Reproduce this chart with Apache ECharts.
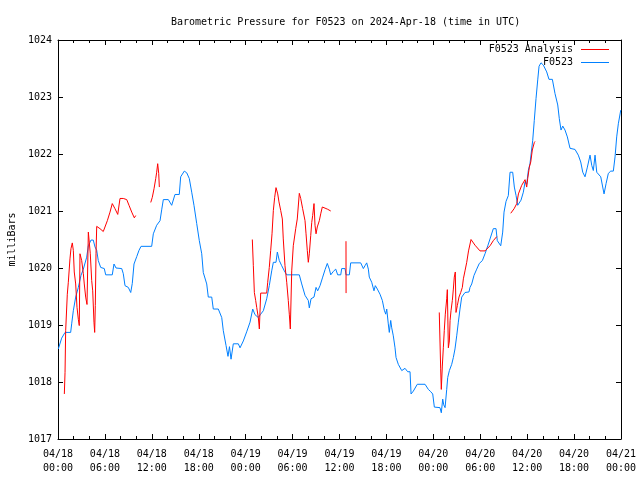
<!DOCTYPE html>
<html>
<head>
<meta charset="utf-8">
<script src="https://cdn.jsdelivr.net/npm/echarts@6/dist/echarts.min.js"></script>
<style>html,body{margin:0;padding:0;background:#fff}#c{width:640px;height:480px}</style>
</head>
<body>
<div id="c"></div>
<script>
// time in hours since 2024-04-18 00:00 UTC
const xTickLabels = ["04/18\n00:00","04/18\n06:00","04/18\n12:00","04/18\n18:00","04/19\n00:00","04/19\n06:00","04/19\n12:00","04/19\n18:00","04/20\n00:00","04/20\n06:00","04/20\n12:00","04/20\n18:00","04/21\n00:00"];
const seriesNames = ["F0523 Analysis", "F0523"];

const stationHours = [0.04,0.47,0.90,1.62,1.75,1.96,2.26,2.60,2.94,3.24,3.67,3.88,4.22,4.51,4.73,4.95,5.15,5.46,5.92,6.10,6.94,7.16,7.42,8.15,8.35,8.57,8.99,9.30,9.50,9.72,10.07,10.36,10.62,11.98,12.19,12.62,13.05,13.26,13.47,14.11,14.54,14.96,15.51,15.69,16.15,16.46,16.79,17.10,17.39,17.74,18.07,18.38,18.58,19.02,19.22,19.66,19.86,20.50,20.94,21.14,21.49,21.74,21.93,22.13,22.42,23.06,23.28,23.70,24.13,24.56,24.90,25.20,25.62,25.92,26.26,26.69,27.02,27.33,27.54,27.88,28.05,28.30,28.61,28.94,29.25,30.86,31.17,31.59,32.01,32.14,32.36,32.74,33.00,33.21,33.51,33.85,34.15,34.44,34.70,34.88,35.21,35.52,35.77,36.16,36.28,36.71,36.83,37.26,37.43,38.71,39.05,39.26,39.48,39.69,39.81,40.12,40.41,40.58,40.84,41.18,41.48,41.73,41.91,42.04,42.24,42.37,42.55,42.68,42.88,43.10,43.23,43.52,43.96,44.38,44.60,44.72,45.02,45.15,45.44,45.95,46.94,47.36,47.67,47.92,48.13,48.85,49.02,49.20,49.33,49.50,49.71,49.84,50.05,50.35,50.56,50.77,50.99,51.20,51.41,51.63,52.05,52.56,52.69,52.91,53.20,53.55,53.88,54.27,54.61,54.99,55.25,55.67,56.02,56.18,56.62,56.87,57.04,57.30,57.59,57.81,58.15,58.36,58.58,58.79,59.21,59.51,59.73,59.94,60.15,60.36,60.71,60.91,61.13,61.35,61.52,61.77,62.07,62.28,62.50,62.79,63.22,63.56,63.91,64.11,64.33,64.55,64.84,65.14,65.48,66.12,66.54,66.85,67.11,67.40,67.70,68.04,68.26,68.46,68.68,68.90,69.10,69.41,69.61,69.83,70.09,70.38,70.69,71.02,71.24,71.45,71.66,71.97];
const stationPressure = [1018.58,1018.77,1018.87,1018.87,1019.02,1019.25,1019.49,1019.66,1019.87,1019.98,1020.19,1020.39,1020.49,1020.49,1020.37,1020.31,1020.13,1020.01,1019.99,1019.88,1019.88,1020.07,1020.00,1019.99,1019.90,1019.69,1019.66,1019.57,1019.73,1020.07,1020.20,1020.31,1020.38,1020.38,1020.60,1020.75,1020.83,1021.02,1021.20,1021.20,1021.10,1021.29,1021.29,1021.60,1021.70,1021.67,1021.57,1021.33,1021.10,1020.78,1020.48,1020.25,1019.92,1019.72,1019.49,1019.49,1019.28,1019.28,1019.13,1018.90,1018.64,1018.45,1018.62,1018.40,1018.67,1018.67,1018.60,1018.72,1018.88,1019.05,1019.28,1019.18,1019.13,1019.19,1019.25,1019.46,1019.69,1019.95,1020.10,1020.10,1020.28,1020.13,1020.04,1019.95,1019.88,1019.88,1019.72,1019.52,1019.43,1019.30,1019.46,1019.49,1019.66,1019.60,1019.69,1019.84,1019.97,1020.08,1019.98,1019.88,1019.94,1019.98,1019.88,1019.88,1019.99,1019.99,1019.88,1019.88,1020.09,1020.09,1019.99,1020.04,1020.09,1019.98,1019.84,1019.75,1019.60,1019.69,1019.63,1019.54,1019.43,1019.26,1019.19,1019.28,1019.02,1018.87,1019.08,1018.95,1018.81,1018.60,1018.43,1018.31,1018.20,1018.24,1018.27,1018.18,1018.18,1017.79,1017.84,1017.96,1017.96,1017.87,1017.83,1017.79,1017.56,1017.55,1017.46,1017.70,1017.60,1017.55,1017.87,1018.08,1018.20,1018.31,1018.43,1018.58,1018.81,1019.05,1019.28,1019.49,1019.57,1019.58,1019.66,1019.72,1019.87,1019.98,1020.08,1020.13,1020.25,1020.40,1020.51,1020.69,1020.69,1020.48,1020.39,1020.63,1020.98,1021.17,1021.27,1021.68,1021.68,1021.42,1021.27,1021.10,1021.19,1021.33,1021.51,1021.47,1021.71,1021.83,1022.24,1022.59,1022.97,1023.30,1023.54,1023.60,1023.56,1023.53,1023.44,1023.31,1023.31,1023.06,1022.86,1022.62,1022.42,1022.49,1022.42,1022.30,1022.10,1022.08,1021.98,1021.86,1021.68,1021.60,1021.77,1021.98,1021.80,1021.71,1021.98,1021.68,1021.68,1021.60,1021.62,1021.30,1021.48,1021.66,1021.70,1021.70,1021.95,1022.30,1022.53,1022.77];

// null marks a gap in the analysis series
const analysisHours = [0.81,0.90,0.98,1.19,1.32,1.53,1.66,1.83,1.96,2.08,2.26,2.43,2.60,2.72,2.81,3.03,3.24,3.36,3.54,3.71,3.88,4.00,4.13,4.31,4.44,4.60,4.69,4.77,4.86,4.95,5.37,5.79,6.01,6.31,6.65,6.94,7.29,7.64,7.93,8.35,8.79,9.08,9.43,9.76,9.94,null,
11.86,12.06,12.28,12.50,12.62,12.75,12.88,12.96,null,
24.85,24.98,25.11,25.28,25.41,25.62,25.75,25.92,26.69,26.82,27.02,27.20,27.37,27.54,27.71,27.88,28.10,28.26,28.48,28.69,28.81,29.03,29.25,29.45,29.58,29.71,29.89,30.09,30.40,30.60,30.86,31.04,31.29,31.59,31.72,31.88,32.01,32.14,32.32,32.45,32.57,32.74,32.87,33.00,33.16,33.42,33.60,33.80,34.15,34.49,34.88,null,
36.83,36.84,null,
48.76,48.94,49.02,49.15,49.28,49.40,49.53,49.71,49.79,49.92,50.05,50.14,50.26,50.43,50.56,50.68,50.81,50.90,51.07,51.28,51.50,51.71,51.84,52.05,52.27,52.50,52.82,53.33,53.97,54.61,55.25,55.67,56.11,null,
57.90,58.33,58.67,58.88,59.30,59.73,59.94,60.07,60.28,60.46,60.66,60.91,61.00];
const analysisPressure = [1017.79,1018.17,1018.90,1019.54,1019.75,1020.16,1020.34,1020.44,1020.31,1019.93,1019.72,1019.31,1019.10,1018.99,1020.25,1020.13,1019.90,1019.72,1019.49,1019.36,1020.63,1020.45,1020.25,1019.78,1019.60,1019.05,1018.87,1019.34,1020.25,1020.73,1020.69,1020.64,1020.64,1020.83,1020.98,1021.13,1021.04,1020.94,1021.22,1021.22,1021.20,1021.10,1020.98,1020.88,1020.92,null,
1021.15,1021.24,1021.39,1021.57,1021.68,1021.83,1021.66,1021.42,null,
1020.50,1020.04,1019.57,1019.43,1019.31,1019.13,1018.93,1019.56,1019.56,1019.75,1020.01,1020.31,1020.60,1021.01,1021.24,1021.41,1021.30,1021.16,1021.01,1020.86,1020.51,1020.04,1019.75,1019.43,1019.19,1018.93,1019.95,1020.39,1020.69,1020.86,1021.31,1021.22,1021.04,1020.83,1020.60,1020.31,1020.10,1020.25,1020.57,1020.80,1020.92,1021.13,1020.75,1020.60,1020.72,1020.83,1020.95,1021.07,1021.05,1021.03,1021.00,null,
1020.47,1019.56,null,
1019.22,1018.23,1017.87,1018.28,1018.60,1018.90,1019.19,1019.46,1019.62,1018.60,1018.72,1019.08,1019.25,1019.43,1019.63,1019.84,1019.93,1019.22,1019.34,1019.49,1019.57,1019.66,1019.81,1019.95,1020.10,1020.30,1020.50,1020.40,1020.30,1020.30,1020.39,1020.48,1020.55,null,
1020.96,1021.04,1021.13,1021.30,1021.45,1021.55,1021.42,1021.57,1021.77,1021.86,1022.07,1022.20,1022.22];

const FONT = 'DejaVu Sans Mono';
const toPairs = (xs, ys) => xs.map((x, i) => (x === null || ys[i] === null) ? ['-', '-'] : [x, ys[i]]);

const baseX = {
  type: 'value', min: 0, max: 72, interval: 6,
  axisLine: { show: true, onZero: false, lineStyle: { color: '#000', width: 1 } },
  axisTick: { show: true, inside: true, length: 5, lineStyle: { color: '#000' } },
  minorTick: { show: true, splitNumber: 3, length: 3, lineStyle: { color: '#000' } },
  splitLine: { show: false }, minorSplitLine: { show: false }
};
const baseY = {
  type: 'value', min: 1017, max: 1024, interval: 1,
  axisLine: { show: true, onZero: false, lineStyle: { color: '#000', width: 1 } },
  axisTick: { show: true, inside: true, length: 5, lineStyle: { color: '#000' } },
  splitLine: { show: false }
};

const chart = echarts.init(document.getElementById('c'), null, { renderer: 'canvas' });
chart.setOption({
  animation: false,
  backgroundColor: '#fff',
  title: {
    text: 'Barometric Pressure for F0523 on 2024-Apr-18 (time in UTC)',
    left: 166, top: 12,
    textStyle: { fontFamily: FONT, fontSize: 10, fontWeight: 'normal', color: '#000' }
  },
  legend: {
    data: seriesNames,
    orient: 'vertical', align: 'right',
    right: 31, top: 43, padding: 0, itemGap: 0,
    itemWidth: 28, itemHeight: 1, icon: 'rect',
    textStyle: { fontFamily: FONT, fontSize: 10, color: '#000', lineHeight: 13, padding: [0, 3, 0, 0] }
  },
  grid: { left: 58, right: 19, top: 40, bottom: 41, containLabel: false, outerBoundsMode: 'none' },
  xAxis: [
    Object.assign({}, baseX, {
      position: 'bottom',
      axisLabel: {
        show: true, margin: 8, fontFamily: FONT, fontSize: 10, color: '#000', lineHeight: 14,
        showMinLabel: true, showMaxLabel: true,
        formatter: v => xTickLabels[Math.round(v / 6)]
      }
    }),
    Object.assign({}, baseX, { position: 'top', axisLabel: { show: false } })
  ],
  yAxis: [
    Object.assign({}, baseY, {
      position: 'left',
      name: 'milliBars', nameLocation: 'middle', nameRotate: 90, nameGap: 41,
      nameTextStyle: { fontFamily: FONT, fontSize: 10, color: '#000' },
      axisLabel: { show: true, margin: 6, fontFamily: FONT, fontSize: 10, color: '#000', formatter: v => String(v) }
    }),
    Object.assign({}, baseY, { position: 'right', axisLabel: { show: false } })
  ],
  series: [
    {
      name: seriesNames[0], type: 'line', xAxisIndex: 0, yAxisIndex: 0,
      data: toPairs(analysisHours, analysisPressure),
      showSymbol: false, symbol: 'none', connectNulls: false,
      lineStyle: { color: '#ff0000', width: 1 }, itemStyle: { color: '#ff0000' }, z: 3
    },
    {
      name: seriesNames[1], type: 'line', xAxisIndex: 0, yAxisIndex: 0,
      data: toPairs(stationHours, stationPressure),
      showSymbol: false, symbol: 'none',
      lineStyle: { color: '#0080ff', width: 1 }, itemStyle: { color: '#0080ff' }, z: 2
    }
  ]
});
</script>
</body>
</html>
